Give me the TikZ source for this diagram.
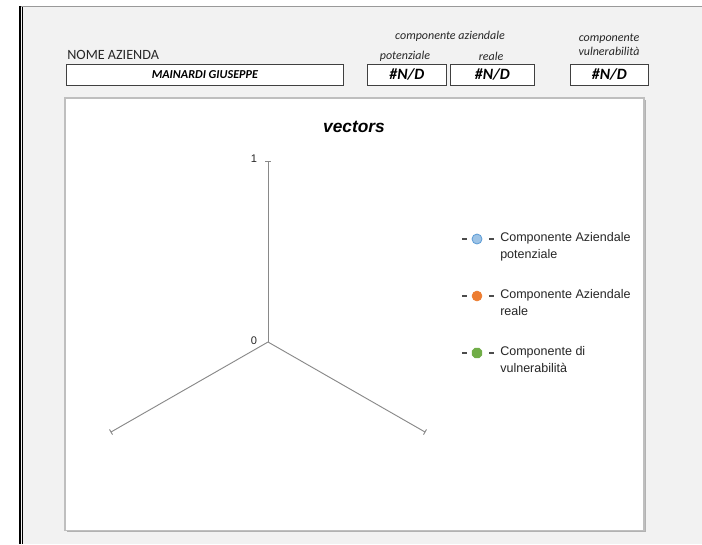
\documentclass[tikz,border=0pt]{standalone}
\usepackage{fontspec}
\setmainfont{Carlito}
\newfontfamily\arialf{Liberation Sans}
\usetikzlibrary{shapes.geometric,calc}
\definecolor{bgrey}{HTML}{F2F2F2}
\definecolor{axisgrey}{HTML}{898989}
\definecolor{boxgrey}{HTML}{BFBFBF}
\definecolor{mblue}{HTML}{9DC3E6}
\definecolor{mblueb}{HTML}{5B9BD5}
\definecolor{morange}{HTML}{ED7D31}
\definecolor{mgreen}{HTML}{70AD47}
\tikzset{
  valbox/.style={draw=black!75, fill=white, line width=0.6pt, inner sep=0pt, anchor=north west},
  hdr/.style={font=\fontsize{9}{10.5}\selectfont\itshape, text=black!85, inner sep=0pt, align=center},
  legtxt/.style={font=\arialf\fontsize{9.4}{12.6}\selectfont, text=black!85, anchor=north west, inner sep=0pt, align=left},
  axl/.style={draw=axisgrey, line width=0.7pt},
  lab/.style={font=\arialf\fontsize{8.3}{9}\selectfont, text=black!85, inner sep=0pt},
  dashm/.style={draw=black!70, line width=1pt}
}
\begin{document}
\begin{tikzpicture}[x=0.75pt,y=-0.75pt]
\useasboundingbox (0,0) rectangle (702,544);
\fill[white] (0,0) rectangle (702,544);
\fill[bgrey] (20,6) rectangle (702,544);
\draw[black!40, line width=1.2pt] (19,6.5) -- (702,6.5);
\draw[black, line width=0.9pt] (20,6) -- (20,544);
\draw[black, line width=0.9pt] (22.5,7) -- (22.5,544);
% header
\node[font=\fontsize{10.6}{12}\selectfont, anchor=west, inner sep=0pt, text=black!85] (nome) at (67,55) {NOME AZIENDA};
\node[valbox, minimum width=277*0.75pt, minimum height=21*0.75pt] (az) at (66,64) {};
\node[font=\fontsize{9.1}{10}\selectfont\bfseries\itshape, inner sep=0pt] (azt) at (az.center) {MAINARDI GIUSEPPE};
\node[hdr] (ca) at (450,36) {componente aziendale};
\node[hdr] (pot) at (405,56) {potenziale};
\node[hdr] (rea) at (491,56) {reale};
\node[hdr] (cv) at (609,45) {componente\\vulnerabilità};
\node[valbox, minimum width=79*0.75pt, minimum height=21*0.75pt] (b1) at (367,64) {};
\node[valbox, minimum width=84*0.75pt, minimum height=21*0.75pt] (b2) at (450,64) {};
\node[valbox, minimum width=78*0.75pt, minimum height=21*0.75pt] (b3) at (570,64) {};
\foreach \b in {b1,b2,b3}{\node[font=\fontsize{11.8}{12}\selectfont\bfseries\itshape, inner sep=0pt] at (\b.center) {\#N/D};}
% chart area
\fill[black!30] (66.5,99.5) rectangle (645.5,532);
\draw[boxgrey, fill=white, line width=0.8pt] (65,98) rectangle (644,530.5);
\node[font=\arialf\fontsize{13}{14}\selectfont\bfseries\itshape, inner sep=0pt] (title) at (354,127) {vectors};
% axes
\coordinate (o) at (268,342);
\coordinate (top) at (268,161);
\coordinate (l) at (111,432);
\coordinate (r) at (425,432);
\draw[axl] (o) -- (top);
\draw[axl] (265,161) -- (271,161);
\draw[axl] (o) -- (l);
\draw[axl] (o) -- (r);
\draw[axl] ($(l)+(-1.5,-2.6)$) -- ($(l)+(1.5,2.6)$);
\draw[axl] ($(r)+(1.5,-2.6)$) -- ($(r)+(-1.5,2.6)$);
\node[lab] (one) at (254,159) {1};
\node[lab] (zero) at (254,341) {0};
% legend
\foreach \yy/\txt in {239/{Componente Aziendale\\potenziale}, 296/{Componente Aziendale\\reale}, 353/{Componente di\\vulnerabilità}}{
  \draw[dashm] (462,\yy) -- (467,\yy);
  \draw[dashm] (489,\yy) -- (494,\yy);
  \node[legtxt] at (500,\yy-7) {\txt};
}
\node[circle, fill=mblue, draw=mblueb, line width=0.6pt, minimum size=7.5pt, inner sep=0pt] (m1) at (477,239) {};
\node[circle, fill=morange, draw=morange, minimum size=7.5pt, inner sep=0pt] (m2) at (477,296) {};
\node[regular polygon, regular polygon sides=8, fill=mgreen, draw=mgreen, minimum size=8pt, inner sep=0pt] (m3) at (477,353) {};
\end{tikzpicture}
\end{document}
